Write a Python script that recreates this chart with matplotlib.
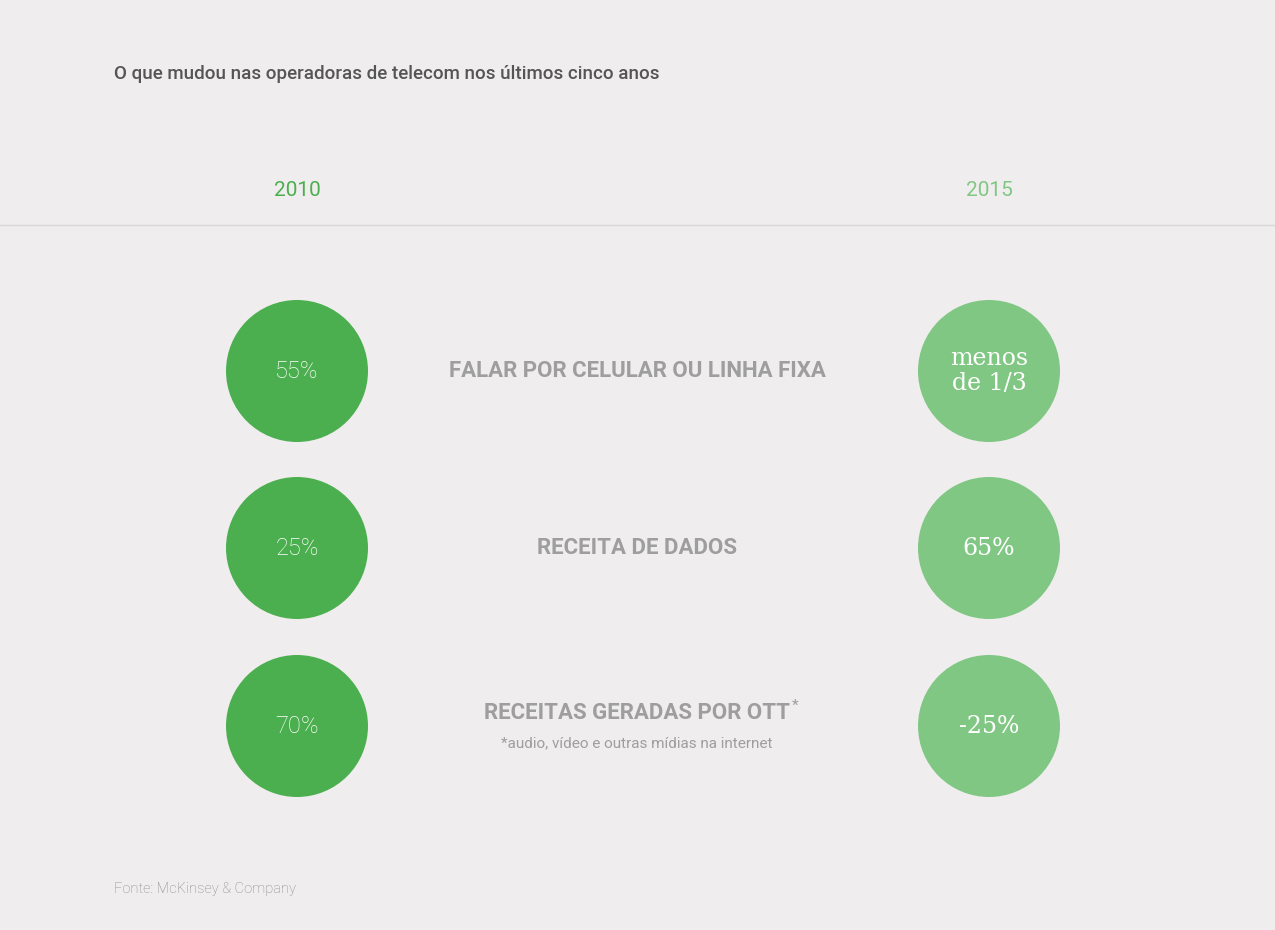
import matplotlib.pyplot as plt
from matplotlib.patches import Circle

title = "O que mudou nas operadoras de telecom nos últimos cinco anos"
years = ["2010", "2015"]
labels = ["FALAR POR CELULAR OU LINHA FIXA", "RECEITA DE DADOS", "RECEITAS GERADAS POR OTT"]
values_2010 = ["55%", "25%", "70%"]
values_2015 = ["menos\nde 1/3", "65%", "-25%"]
footnote = "*audio, vídeo e outras mídias na internet"
source = "Fonte: McKinsey & Company"

bg = "#efeded"
dark = "#4caf4f"
light = "#81c784"

fig = plt.figure(figsize=(12.75, 9.3), dpi=100, facecolor=bg)
ax = fig.add_axes([0, 0, 1, 1])
ax.set_xlim(0, 1275)
ax.set_ylim(930, 0)
ax.axis("off")
ax.set_facecolor(bg)

ax.text(114, 74, title, fontsize=13.5, family="Roboto", weight="medium", color="#555555", va="center")
cols = [297, 989]
for x, yr, c in zip(cols, years, [dark, light]):
    ax.text(x, 190, yr, fontsize=15, family="Roboto", color=c, ha="center", va="center")
ax.plot([0, 1275], [225, 225], color="#d8d6d6", lw=1)

rows = [371, 548, 726]
for i, y in enumerate(rows):
    ax.add_patch(Circle((cols[0], y), 71, color=dark, lw=0))
    ax.add_patch(Circle((cols[1], y), 71, color=light, lw=0))
    ax.text(cols[0], y, values_2010[i], fontsize=17, family="Roboto", weight="light",
            color="white", ha="center", va="center")
    ax.text(cols[1], y, values_2015[i], fontsize=17, family="DejaVu Serif", weight="light",
            color="white", ha="center", va="center", linespacing=1.1)
    ly = y - 13 if i == 2 else y
    ax.text(637, ly, labels[i], fontsize=16, family="Roboto", weight="bold",
            color="#9e9e9e", ha="center", va="center")
ax.text(795, 706, "*", fontsize=11, family="Roboto", color="#9e9e9e", ha="center", va="center")
ax.text(637, 743, footnote, fontsize=11, family="Roboto", color="#9e9e9e", ha="center", va="center")
ax.text(114, 889, source, fontsize=10.5, family="Roboto", weight="light", color="#8a8a8a", va="center")

fig.savefig("out.png", dpi=100, facecolor=bg)
